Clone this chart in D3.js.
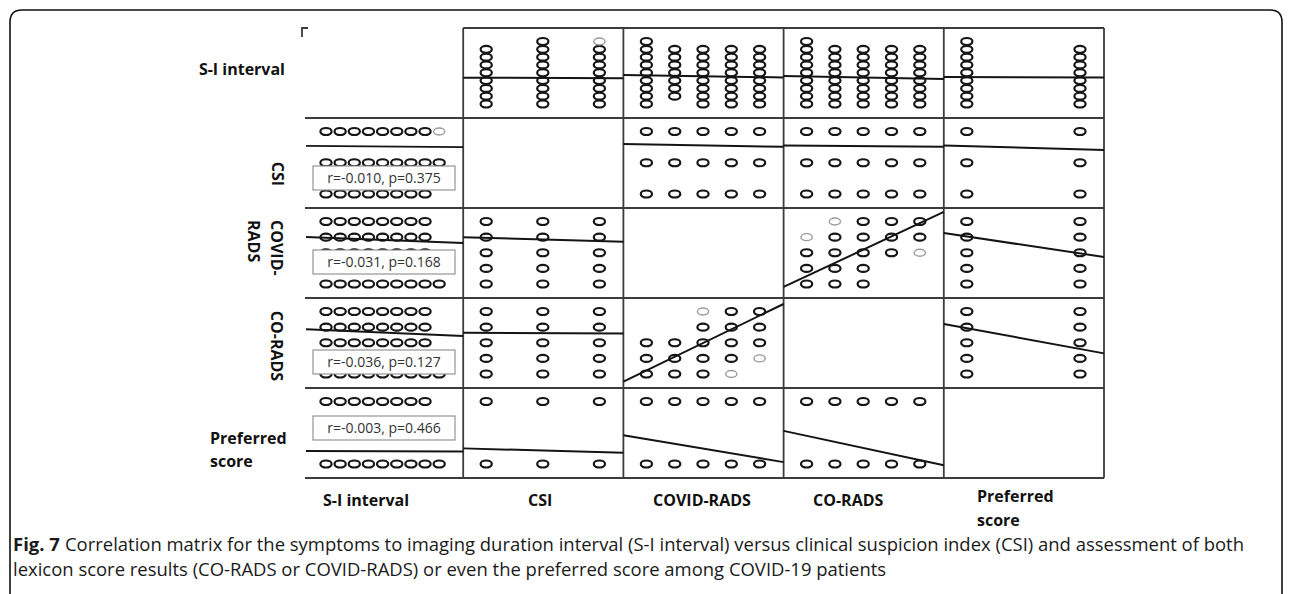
<!DOCTYPE html>
<html><head><meta charset="utf-8">
<script src="https://cdn.jsdelivr.net/npm/d3@7"></script>
<style>body{margin:0;background:#fff}svg{display:block}</style>
</head><body>
<svg id="c" width="1292" height="594"></svg>
<script>
// ---------------- DATA ----------------
const variables = ["S-I interval", "CSI", "COVID-RADS", "CO-RADS", "Preferred score"];
const siLevels = [1, 2, 3, 4, 5, 6, 7, 8, 9];
const csiLevels = [1, 2, 3];
const covidLevels = [1, 2, 3, 4, 5];
const coradsLevels = [1, 2, 3, 4, 5];
const preferredLevels = [1, 2];

// S-I interval levels observed at each level of the other variable
const siByCsi = {1: [1, 2, 3, 4, 5, 6, 7, 8], 2: [1, 2, 3, 4, 5, 6, 7, 8, 9], 3: [1, 2, 3, 4, 5, 6, 7, 8, 9]};
const siByCovid = {1: [1, 2, 3, 4, 5, 6, 7, 8, 9], 2: [2, 3, 4, 5, 6, 7, 8], 3: [1, 2, 3, 4, 5, 6, 7, 8], 4: [1, 2, 3, 4, 5, 6, 7, 8], 5: [1, 2, 3, 4, 5, 6, 7, 8]};
const siByCorads = {1: [1, 2, 3, 4, 5, 6, 7, 8, 9], 2: [1, 2, 3, 4, 5, 6, 7, 8], 3: [1, 2, 3, 4, 5, 6, 7, 8], 4: [1, 2, 3, 4, 5, 6, 7, 8], 5: [1, 2, 3, 4, 5, 6, 7, 8]};
const siByPreferred = {1: [1, 2, 3, 4, 5, 6, 7, 8, 9], 2: [1, 2, 3, 4, 5, 6, 7, 8]};

// observed [COVID-RADS, CO-RADS] combinations
const covidCoradsPairs = [
  [1, 1], [2, 1], [3, 1], [4, 1],
  [1, 2], [2, 2], [3, 2], [4, 2], [5, 2],
  [1, 3], [2, 3], [3, 3], [4, 3], [5, 3],
  [3, 4], [4, 4], [5, 4],
  [3, 5], [4, 5], [5, 5]
];
// rare (faint) combinations
const faintCovidCorads = [[3, 5], [4, 1], [5, 2]];
const faintSiCsi = [[9, 3]];

// correlation of S-I interval with each other variable
const corrLabels = ["r=-0.010, p=0.375", "r=-0.031, p=0.168", "r=-0.036, p=0.127", "r=-0.003, p=0.466"];

// fitted regression value (row variable units) at left and right edge of each cell
const fits = [
  {row: 0, col: 1, at: [4.37, 4.29]},
  {row: 0, col: 2, at: [4.71, 4.40]},
  {row: 0, col: 3, at: [4.58, 4.20]},
  {row: 0, col: 4, at: [4.46, 4.38]},
  {row: 1, col: 0, at: [2.54, 2.50]},
  {row: 1, col: 2, at: [2.60, 2.51]},
  {row: 1, col: 3, at: [2.55, 2.51]},
  {row: 1, col: 4, at: [2.55, 2.41]},
  {row: 2, col: 0, at: [4.01, 3.62]},
  {row: 2, col: 1, at: [3.99, 3.71]},
  {row: 2, col: 3, at: [0.81, 5.61]},
  {row: 2, col: 4, at: [4.26, 2.73]},
  {row: 3, col: 0, at: [3.86, 3.43]},
  {row: 3, col: 1, at: [3.64, 3.60]},
  {row: 3, col: 2, at: [0.51, 5.48]},
  {row: 3, col: 4, at: [4.20, 2.32]},
  {row: 4, col: 0, at: [1.21, 1.20]},
  {row: 4, col: 1, at: [1.25, 1.18]},
  {row: 4, col: 2, at: [1.46, 1.03]},
  {row: 4, col: 3, at: [1.53, 0.98]}
];

const captionFig = "Fig. 7";
const captionLine1Rest = "Correlation matrix for the symptoms to imaging duration interval (S-I interval) versus clinical suspicion index (CSI) and assessment of both";
const captionLine2 = "lexicon score results (CO-RADS or COVID-RADS) or even the preferred score among COVID-19 patients";

// ---------------- LAYOUT ----------------
const svg = d3.select("#c");
const X0 = 303, Y0 = 28, W = 160.2, H = 90, N = 5;
const padL = 23, padR = 24, padT = 13.5, padB = 14;
const levelsOf = [siLevels, csiLevels, covidLevels, coradsLevels, preferredLevels];
const siBy = [null, siByCsi, siByCovid, siByCorads, siByPreferred];

const xS = levelsOf.map(l => d3.scaleLinear().domain(d3.extent(l)).range([padL, W - padR]));
const yS = levelsOf.map(l => d3.scaleLinear().domain(d3.extent(l)).range([H - padB, padT]));

function isFaint(d) {
  const has = (list, p, q) => list.some(e => e[0] === p && e[1] === q);
  if (0 in d && 1 in d) return has(faintSiCsi, d[0], d[1]);
  if (2 in d && 3 in d) return has(faintCovidCorads, d[2], d[3]);
  return false;
}

function combos(i, j) {
  const out = [];
  if (i === 0 || j === 0) {
    const k = i === 0 ? j : i;
    levelsOf[k].forEach(L => siBy[k][L].forEach(s => { const o = {}; o[0] = s; o[k] = L; out.push(o); }));
  } else if ((i === 2 && j === 3) || (i === 3 && j === 2)) {
    covidCoradsPairs.forEach(p => { const o = {}; o[2] = p[0]; o[3] = p[1]; out.push(o); });
  } else {
    levelsOf[i].forEach(a => levelsOf[j].forEach(b => { const o = {}; o[i] = a; o[j] = b; out.push(o); }));
  }
  return out;
}

const gridColor = "#3c3c3c";
// outer frame
svg.append("path")
  .attr("d", "M10,594 V22 Q10,10 22,10 H1270 Q1282,10 1282,22 V594")
  .attr("fill", "none").attr("stroke", "#111").attr("stroke-width", 1.6);

const grid = svg.append("g").attr("stroke", gridColor).attr("stroke-width", 1.8).attr("fill", "none");
for (let c = 1; c <= N; c++) {
  const x = X0 + c * W;
  grid.append("line").attr("x1", x).attr("x2", x).attr("y1", Y0).attr("y2", Y0 + N * H);
}
for (let r = 1; r <= N; r++) {
  const y = Y0 + r * H;
  grid.append("line").attr("x1", X0 + 2).attr("x2", X0 + N * W).attr("y1", y).attr("y2", y);
}
grid.append("line").attr("x1", X0 + W).attr("x2", X0 + N * W).attr("y1", Y0).attr("y2", Y0);
grid.append("path").attr("d", `M${X0 - 1},${Y0 + 9} V${Y0} H${X0 + 5}`);

// cells
for (let i = 0; i < N; i++) {
  for (let j = 0; j < N; j++) {
    if (i === j) continue;
    const g = svg.append("g").attr("transform", `translate(${X0 + j * W},${Y0 + i * H})`);
    g.selectAll("ellipse").data(combos(i, j)).join("ellipse")
      .attr("cx", d => xS[j](d[j]))
      .attr("cy", d => yS[i](d[i]))
      .attr("rx", 5.6).attr("ry", 3.5)
      .attr("fill", "none")
      .attr("stroke", d => isFaint(d) ? "#9a9a9a" : "#161616")
      .attr("stroke-width", d => isFaint(d) ? 1.4 : 2.2);
  }
}

// regression lines
fits.forEach(f => {
  const gx = X0 + f.col * W, gy = Y0 + f.row * H;
  const xa = f.col === 0 ? 3 : 0;
  svg.append("line")
    .attr("x1", gx + xa).attr("x2", gx + W)
    .attr("y1", gy + yS[f.row](f.at[0]))
    .attr("y2", gy + yS[f.row](f.at[1]))
    .attr("stroke", "#141414").attr("stroke-width", 2);
});

// correlation boxes in first column
const boxTop = [48, 42, 52, 28];
corrLabels.forEach((t, k) => {
  const r = k + 1;
  const by = Y0 + r * H + boxTop[k];
  svg.append("rect").attr("x", 313).attr("y", by).attr("width", 142).attr("height", 24)
    .attr("fill", "#fff").attr("stroke", "#8a8a8a").attr("stroke-width", 1.1);
  svg.append("text").attr("x", 384).attr("y", by + 17).attr("text-anchor", "middle")
    .attr("font-family", "Open Sans").attr("font-size", 14).attr("fill", "#333").text(t);
});

// labels
const lbl = (x, y, t, anchor, rot) => {
  const e = svg.append("text").attr("font-family", "Open Sans").attr("font-weight", 700)
    .attr("font-size", 16).attr("fill", "#111").attr("text-anchor", anchor || "start").text(t);
  if (rot) e.attr("transform", `translate(${x},${y}) rotate(90)`);
  else e.attr("x", x).attr("y", y);
  return e;
};
// row labels
lbl(285, 75, variables[0], "end");
lbl(272, 174, "CSI", "middle", true);
lbl(271, 220, "COVID-", "start", true);
lbl(248, 220, "RADS", "start", true);
lbl(271, 346, "CO-RADS", "middle", true);
lbl(210, 444, "Preferred", "start");
lbl(210, 467, "score", "start");
// column labels
lbl(323, 506, variables[0]);
lbl(528, 506, variables[1]);
lbl(653, 506, variables[2]);
lbl(813, 506, variables[3]);
lbl(977, 502, "Preferred");
lbl(977, 526, "score");

// caption
const capFont = 16;
const figT = svg.append("text").attr("x", 13).attr("y", 551)
  .attr("font-family", "Open Sans").attr("font-size", capFont).attr("font-weight", 700)
  .attr("fill", "#1a1a1a").text(captionFig);
const cap1 = svg.append("text").attr("y", 551)
  .attr("font-family", "Open Sans").attr("font-size", capFont).attr("fill", "#1a1a1a").text(captionLine1Rest);
const cap2 = svg.append("text").attr("x", 13).attr("y", 576)
  .attr("font-family", "Open Sans").attr("font-size", capFont).attr("fill", "#1a1a1a").text(captionLine2);
const wf = figT.node().getComputedTextLength();
const wr = cap1.node().getComputedTextLength();
const gap = capFont * 0.28;
const s = 1232 / (wf + gap + wr);
const fs = capFont * s;
figT.attr("font-size", fs);
cap1.attr("font-size", fs).attr("x", 13 + (wf + gap) * s);
cap2.attr("font-size", fs);
</script>
</body></html>
